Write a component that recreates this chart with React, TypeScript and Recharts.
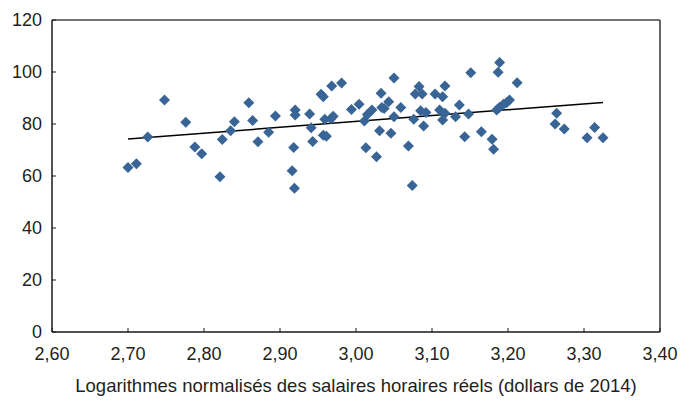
import {
  ScatterChart,
  Scatter,
  XAxis,
  YAxis,
  ReferenceLine,
} from "recharts";

const WAGES = [
  2.7, 2.711, 2.726, 2.748, 2.776, 2.788, 2.797, 2.821, 2.824, 2.835, 2.84, 2.859,
  2.864, 2.871, 2.885, 2.894, 2.92, 2.92, 2.918, 2.916, 2.919, 2.939, 2.941, 2.943,
  2.954, 2.957, 2.968, 2.981, 2.959, 2.957, 2.961, 2.967, 2.97, 2.994, 3.004, 3.011,
  3.015, 3.021, 3.013, 3.027, 3.031, 3.033, 3.034, 3.037, 3.043, 3.046, 3.05, 3.05,
  3.059, 3.069, 3.074, 3.076, 3.078, 3.083, 3.087, 3.085, 3.089, 3.092, 3.104, 3.11,
  3.114, 3.117, 3.114, 3.117, 3.131, 3.136, 3.143, 3.148, 3.151, 3.165, 3.179, 3.181,
  3.189, 3.187, 3.212, 3.202, 3.194, 3.189, 3.185, 3.198, 3.264, 3.262, 3.274, 3.304,
  3.314, 3.325,
];

const PRODUCTIVITY = [
  63.3, 64.7, 75.0, 89.2, 80.7, 71.2, 68.6, 59.7, 74.0, 77.4, 80.9, 88.2,
  81.3, 73.2, 76.8, 83.1, 85.4, 83.5, 71.0, 62.0, 55.3, 83.8, 78.6, 73.3,
  91.4, 90.5, 94.6, 95.8, 81.8, 75.7, 75.3, 82.0, 83.0, 85.6, 87.6, 81.2,
  83.7, 85.4, 70.9, 67.4, 77.4, 91.8, 86.3, 86.0, 88.6, 76.4, 97.7, 82.8,
  86.3, 71.5, 56.3, 81.8, 91.5, 94.4, 91.5, 85.1, 79.2, 84.4, 91.5, 85.4,
  90.5, 94.6, 81.5, 84.1, 82.8, 87.3, 75.1, 83.8, 99.7, 77.0, 74.1, 70.3,
  103.7, 99.9, 95.9, 89.2, 87.6, 86.4, 85.4, 88.2, 84.1, 80.0, 78.1, 74.7,
  78.7, 74.7,
];

const TREND_X = [2.7, 3.325];
const TREND_Y = [74.2, 88.3];

const X_TICKS = [2.6, 2.7, 2.8, 2.9, 3.0, 3.1, 3.2, 3.3, 3.4];
const Y_TICKS = [0, 20, 40, 60, 80, 100, 120];

const points = WAGES.map((x, i) => ({ x, y: PRODUCTIVITY[i] }));

const FONT = "'Liberation Sans', Arial, sans-serif";
const TEXT = "#231f20";

const Diamond = (props: any) => {
  const { cx, cy } = props;
  const r = 5.5;
  return (
    <polygon
      points={`${cx},${cy - r} ${cx + r},${cy} ${cx},${cy + r} ${cx - r},${cy}`}
      fill="#386496"
    />
  );
};

export default function App() {
  return (
    <ScatterChart
      width={685}
      height={394}
      margin={{ top: 12, right: 33, bottom: 8, left: 8 }}
      style={{ fontFamily: FONT }}
    >
      <XAxis
        type="number"
        dataKey="x"
        domain={[2.6, 3.4]}
        ticks={X_TICKS}
        tickFormatter={(v: number) => v.toFixed(2).replace(".", ",")}
        height={62}
        tickSize={-4}
        tickMargin={19}
        axisLine={{ stroke: "#1a1a1a", strokeWidth: 1.5 }}
        tickLine={{ stroke: "#1a1a1a" }}
        tick={{ fill: TEXT, fontSize: 18 }}
        allowDataOverflow
        label={{
          value: "Logarithmes normalisés des salaires horaires réels (dollars de 2014)",
          position: "insideBottom",
          offset: 2,
          fill: TEXT,
          fontSize: 18.5,
        }}
      />
      <YAxis
        type="number"
        dataKey="y"
        domain={[0, 120]}
        ticks={Y_TICKS}
        width={36}
        tickSize={-4}
        tickMargin={14}
        axisLine={{ stroke: "#1a1a1a", strokeWidth: 1.5 }}
        tickLine={{ stroke: "#1a1a1a" }}
        tick={{ fill: TEXT, fontSize: 18 }}
        allowDataOverflow
      />
      <ReferenceLine y={120} stroke="#444" strokeWidth={1.5} />
      <ReferenceLine x={3.4} stroke="#333" strokeWidth={1.5} />
      <Scatter data={points} shape={Diamond} isAnimationActive={false} />
      <ReferenceLine
        segment={[
          { x: TREND_X[0], y: TREND_Y[0] },
          { x: TREND_X[1], y: TREND_Y[1] },
        ]}
        stroke="#000"
        strokeWidth={1.5}
      />
    </ScatterChart>
  );
}
